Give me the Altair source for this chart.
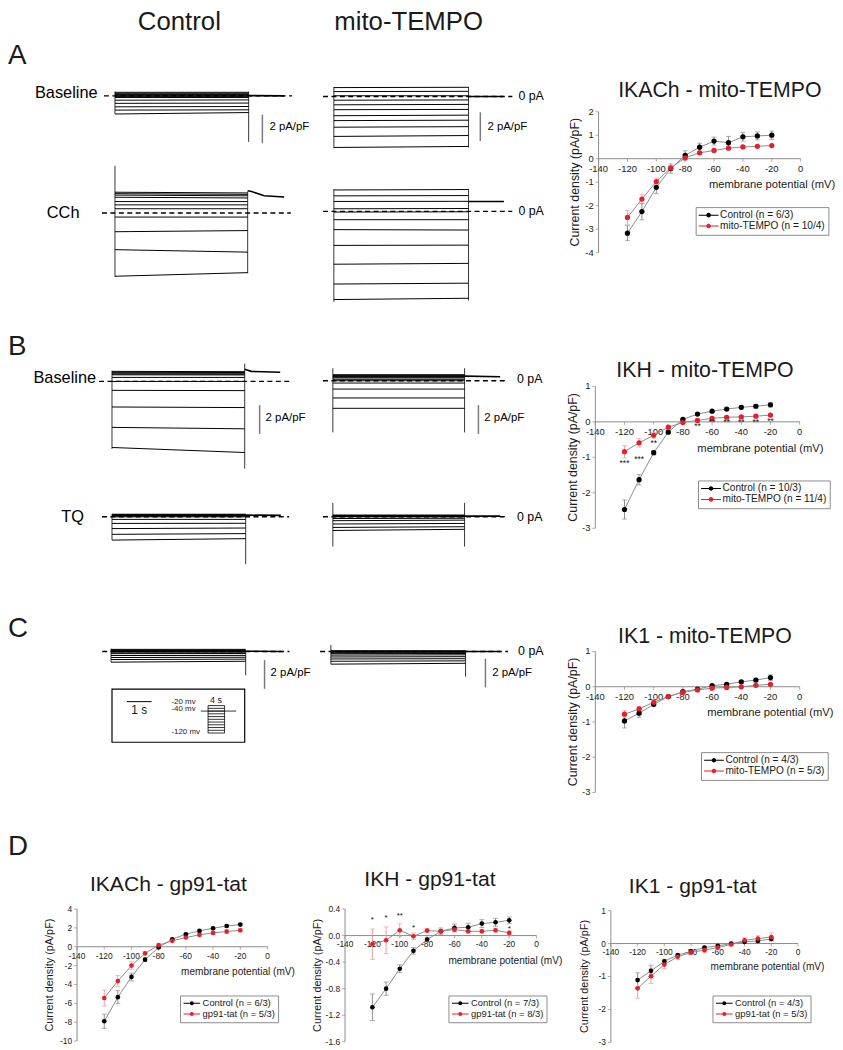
import altair as alt
import pandas as pd

# ------------------------------------------------------------------ data
VOLT = [-120, -110, -100, -90, -80, -70, -60, -50, -40, -30, -20]
X_TICKS = [-140, -120, -100, -80, -60, -40, -20, 0]

# A  IKACh - mito-TEMPO
IKACH_MT_CTRL = [-3.17, -2.25, -1.22, -0.42, 0.14, 0.49, 0.75, 0.68, 0.93, 0.97, 1.00]
IKACH_MT_CTRL_ERR = [0.32, 0.35, 0.27, 0.20, 0.20, 0.17, 0.17, 0.27, 0.18, 0.17, 0.18]
IKACH_MT_TRT = [-2.50, -1.72, -0.97, -0.39, 0.04, 0.25, 0.35, 0.45, 0.50, 0.53, 0.56]
IKACH_MT_TRT_ERR = [0.30, 0.20, 0.15, 0.10, 0.05, 0.05, 0.04, 0.04, 0.04, 0.04, 0.04]

# B  IKH - mito-TEMPO
IKH_MT_CTRL = [-2.47, -1.63, -0.87, -0.29, 0.07, 0.22, 0.30, 0.36, 0.41, 0.44, 0.48]
IKH_MT_CTRL_ERR = [0.27, 0.15, 0.06, 0.04, 0.03, 0.03, 0.04, 0.04, 0.05, 0.05, 0.06]
IKH_MT_TRT = [-0.84, -0.59, -0.38, -0.15, -0.02, 0.04, 0.10, 0.13, 0.14, 0.16, 0.19]
IKH_MT_TRT_ERR = [0.17, 0.12, 0.08, 0.05, 0.03, 0.03, 0.03, 0.03, 0.03, 0.03, 0.03]
IKH_MT_STARS = ["***", "***", "**", "", "", "**", "**", "**", "**", "**", "**"]
IKH_MT_STAR_Y = [-1.17, -1.05, -0.59, 0, 0, -0.11, -0.01, -0.01, -0.01, 0.0, 0.01]

# C  IK1 - mito-TEMPO
IK1_MT_CTRL = [-0.97, -0.75, -0.50, -0.28, -0.14, -0.07, 0.03, 0.07, 0.14, 0.19, 0.26]
IK1_MT_CTRL_ERR = [0.20, 0.12, 0.05, 0.03, 0.03, 0.03, 0.03, 0.03, 0.04, 0.05, 0.08]
IK1_MT_TRT = [-0.78, -0.63, -0.44, -0.28, -0.16, -0.09, -0.04, -0.02, 0.00, 0.04, 0.07]
IK1_MT_TRT_ERR = [0.10, 0.07, 0.04, 0.03, 0.03, 0.03, 0.03, 0.03, 0.03, 0.03, 0.03]

# D  gp91-tat
IKACH_GP_CTRL = [-7.90, -5.35, -3.20, -1.37, -0.07, 0.80, 1.33, 1.68, 1.96, 2.20, 2.35]
IKACH_GP_CTRL_ERR = [0.75, 0.70, 0.40, 0.20, 0.10, 0.10, 0.12, 0.12, 0.12, 0.12, 0.12]
IKACH_GP_TRT = [-5.43, -3.64, -2.00, -0.70, 0.17, 0.63, 0.98, 1.26, 1.47, 1.61, 1.75]
IKACH_GP_TRT_ERR = [0.85, 0.60, 0.40, 0.15, 0.10, 0.10, 0.12, 0.15, 0.18, 0.20, 0.20]

IKH_GP_CTRL = [-1.08, -0.80, -0.50, -0.23, -0.06, 0.065, 0.115, 0.125, 0.18, 0.20, 0.23]
IKH_GP_CTRL_ERR = [0.20, 0.10, 0.06, 0.05, 0.03, 0.05, 0.06, 0.06, 0.06, 0.06, 0.05]
IKH_GP_TRT = [-0.13, -0.07, 0.08, -0.01, 0.075, 0.065, 0.09, 0.065, 0.065, 0.08, 0.04]
IKH_GP_TRT_ERR = [0.23, 0.20, 0.10, 0.05, 0.03, 0.03, 0.03, 0.03, 0.03, 0.03, 0.03]
IKH_GP_STARS = ["*", "*", "**", "*", "", "", "", "", "", "", "*"]
IKH_GP_STAR_Y = [0.23, 0.26, 0.29, 0.115, 0, 0, 0, 0, 0, 0, 0.105]

IK1_GP_CTRL = [-1.11, -0.83, -0.54, -0.35, -0.24, -0.12, -0.07, 0.00, 0.05, 0.08, 0.14]
IK1_GP_CTRL_ERR = [0.22, 0.17, 0.06, 0.04, 0.04, 0.04, 0.04, 0.04, 0.04, 0.05, 0.06]
IK1_GP_TRT = [-1.36, -0.99, -0.64, -0.40, -0.27, -0.20, -0.12, -0.03, 0.10, 0.15, 0.20]
IK1_GP_TRT_ERR = [0.30, 0.22, 0.12, 0.08, 0.06, 0.08, 0.05, 0.04, 0.08, 0.09, 0.12]

# Current traces (pA/pF): level of each sweep at step onset and at step end (t = 0 s, 4 s)
A_CB_START = [0.25, 0.18, 0.10, 0.02, -0.05, -0.11, -0.30, -0.52, -0.76, -0.99, -1.26]
A_CB_END = [0.25, 0.18, 0.10, 0.02, -0.05, -0.11, -0.28, -0.50, -0.74, -0.97, -1.16]
A_CB_TAIL_T, A_CB_TAIL_I = [4.0, 5.07], [0.02, 0.0]
A_CB_TR_T, A_CB_TR_LO, A_CB_TR_HI = [0, 4], [-1.26, -3.2], [0.3, 0.3]

A_MB_START = [0.62, 0.34, 0.05, -0.26, -0.58, -0.92, -1.34, -1.68, -2.14, -2.78, -3.55]
A_MB_END = [0.64, 0.36, 0.05, -0.24, -0.55, -0.90, -1.30, -1.65, -2.10, -2.72, -3.48]
A_MB_TAIL_T, A_MB_TAIL_I = [4.0, 5.03], [0.0, 0.0]
A_MB_TR_T, A_MB_TR_LO, A_MB_TR_HI = [0, 4], [-3.6, -3.55], [0.66, 0.66]

A_CC_START = [1.45, 1.35, 1.25, 1.10, 0.80, 0.57, 0.30, -0.28, -1.30, -2.55, -4.40]
A_CC_END = [1.40, 1.30, 1.20, 1.05, 0.80, 0.57, 0.30, -0.28, -1.22, -2.72, -4.15]
A_CC_TAIL_T, A_CC_TAIL_I = [4.0, 4.12, 4.5, 5.1], [1.55, 1.5, 1.2, 1.12]
A_CC_TR_T, A_CC_TR_LO, A_CC_TR_HI = [0, 4], [-4.45, -4.2], [3.3, 1.5]

A_MC_START = [1.49, 1.08, 0.69, 0.18, -0.05, -0.58, -1.27, -2.37, -3.68, -5.06, -6.14]
A_MC_END = [1.52, 1.10, 0.70, 0.20, -0.03, -0.58, -1.30, -2.35, -3.62, -5.00, -6.05]
A_MC_TAIL_T, A_MC_TAIL_I = [4.0, 5.05], [0.69, 0.69]
A_MC_TR_T, A_MC_TR_LO, A_MC_TR_HI = [0, 4], [-6.3, -6.2], [1.55, 1.55]

B_CB_START = [0.70, 0.64, 0.58, 0.52, 0.46, 0.28, 0.00, -0.62, -1.78, -3.20, -4.60]
B_CB_END = [0.68, 0.62, 0.57, 0.50, 0.45, 0.28, 0.00, -0.64, -1.82, -3.30, -4.95]
B_CB_TAIL_T, B_CB_TAIL_I = [4.0, 4.2, 5.07], [0.85, 0.70, 0.64]
B_CB_TR_T, B_CB_TR_LO, B_CB_TR_HI = [0, 4], [-4.7, -6.07], [0.75, 1.24]

B_MB_START = [0.42, 0.36, 0.30, 0.25, 0.20, 0.10, 0.00, -0.16, -0.58, -1.20, -1.92]
B_MB_END = [0.42, 0.36, 0.30, 0.25, 0.20, 0.10, 0.00, -0.16, -0.58, -1.20, -1.92]
B_MB_TAIL_T, B_MB_TAIL_I = [4.0, 5.08], [0.32, 0.28]
B_MB_TR_T, B_MB_TR_LO, B_MB_TR_HI = [0, 4], [-3.6, -3.6], [0.87, 0.87]

B_CT_START = [0.18, 0.15, 0.12, 0.09, 0.05, 0.00, -0.18, -0.46, -0.82, -1.22, -1.62]
B_CT_END = [0.18, 0.15, 0.12, 0.09, 0.05, 0.00, -0.18, -0.45, -0.78, -1.17, -1.52]
B_CT_TAIL_T, B_CT_TAIL_I = [4.0, 5.05], [0.12, 0.10]
B_CT_TR_T, B_CT_TR_LO, B_CT_TR_HI = [0, 4], [-1.62, -3.3], [0.2, 0.12]

B_MT_START = [0.12, 0.10, 0.07, 0.04, 0.02, 0.00, -0.12, -0.27, -0.50, -0.74, -0.95]
B_MT_END = [0.12, 0.10, 0.07, 0.04, 0.02, 0.00, -0.10, -0.23, -0.46, -0.69, -0.87]
B_MT_TAIL_T, B_MT_TAIL_I = [4.0, 5.08], [0.05, 0.05]
B_MT_TR_T, B_MT_TR_LO, B_MT_TR_HI = [0, 4], [-2.07, -2.07], [0.97, 0.97]

C_C_START = [0.15, 0.10, 0.06, 0.03, 0.00, -0.05, -0.15, -0.28, -0.42, -0.56, -0.74]
C_C_END = [0.15, 0.10, 0.06, 0.03, 0.00, -0.05, -0.14, -0.27, -0.40, -0.53, -0.68]
C_C_TAIL_T, C_C_TAIL_I = [4.0, 5.09], [0.02, 0.0]
C_C_TR_T, C_C_TR_LO, C_C_TR_HI = [0, 4], [-0.74, -1.66], [0.2, 0.05]

C_M_START = [0.05, 0.03, 0.00, -0.03, -0.08, -0.15, -0.25, -0.38, -0.52, -0.68, -0.88]
C_M_END = [0.05, 0.03, 0.00, -0.03, -0.08, -0.14, -0.23, -0.36, -0.50, -0.65, -0.82]
C_M_TAIL_T, C_M_TAIL_I = [4.0, 5.03], [0.0, 0.0]
C_M_TR_T, C_M_TR_LO, C_M_TR_HI = [0, 4], [-0.88, -1.75], [0.45, 0.05]

# voltage protocol
PROTO_STEPS = [-120, -110, -100, -90, -80, -70, -60, -50, -40, -30, -20]
PROTO_HOLD = -40
PROTO_HOLD_T = [-1.75, 6.8]

# ------------------------------------------------------------------ layout / style
W, H, OFF = 835, 1042, 8
FONT = "Liberation Sans"
RED = "#e3202b"
AXC = "#8a8a8a"
TXT = "#1a1a1a"
PX_PER_UNIT = 14.5


def px(v):
    return v - OFF


def lin(domain, r0, r1):
    return alt.Scale(domain=domain, range=[px(r0), px(r1)], nice=False, zero=False)


def sym_path(u_half, r):
    return (f"M-1,{-u_half}L3,{-u_half}L3,{u_half}L-1,{u_half}Z "
            f"M{1 - r},0A{r},{r} 0 1 1 {1 + r},0A{r},{r} 0 1 1 {1 - r},0Z")


def fmt_tick(v, fmt):
    if fmt == ".1f":
        return f"{v:.1f}"
    return str(int(round(v)))


def iv_layer(p):
    lo_v, hi_v = p["ydom"]
    xs = lin([-140, 0], p["xl"], p["xr"])
    ys = lin([lo_v, hi_v], p["yb"], p["yt"])
    big = p["big"]
    lfs = 9.5 if big else 8.5
    X = lambda f: alt.X(f, scale=xs, axis=None)
    Y = lambda f: alt.Y(f, scale=ys, axis=None)

    rows = []
    for lab, vals, errs, ec in [(p["ctrl_lab"], p["ctrl"], p["ctrl_err"], "#8f8f8f"),
                                (p["trt_lab"], p["trt"], p["trt_err"], "#f2a0a0")]:
        for v, m, e in zip(VOLT, vals, errs):
            rows.append({"v": v, "m": m, "lo": m - e, "hi": m + e, "series": lab, "ec": ec})
    df = pd.DataFrame(rows)

    # axes drawn through the panel scales
    xdom = alt.Chart(pd.DataFrame({"a": [-140], "b": [0], "z": [0]})).mark_rule(
        color=AXC, strokeWidth=1).encode(x=X("a:Q"), x2="b:Q", y=Y("z:Q"))
    ydom = alt.Chart(pd.DataFrame({"a": [-140], "lo": [lo_v], "hi": [hi_v]})).mark_rule(
        color=AXC, strokeWidth=1).encode(x=X("a:Q"), y=Y("lo:Q"), y2="hi:Q")
    xt_df = pd.DataFrame({"v": X_TICKS, "z": 0, "s": [str(v) for v in X_TICKS]})
    xticks = alt.Chart(xt_df).mark_tick(orient="vertical", size=3, thickness=1, yOffset=1.5,
                                        color=AXC).encode(x=X("v:Q"), y=Y("z:Q"))
    xlabels = alt.Chart(xt_df).mark_text(baseline="top", align="center", dy=5, fontSize=lfs,
                                         color=TXT).encode(x=X("v:Q"), y=Y("z:Q"), text="s:N")
    yt_df = pd.DataFrame({"a": -140, "v": p["yticks"], "s": [fmt_tick(v, p["fmt"]) for v in p["yticks"]]})
    yticks = alt.Chart(yt_df).mark_tick(orient="horizontal", size=3, thickness=1, xOffset=-1.5,
                                        color=AXC).encode(x=X("a:Q"), y=Y("v:Q"))
    ylabels = alt.Chart(yt_df).mark_text(baseline="middle", align="right", dx=-5, fontSize=lfs,
                                         color=TXT).encode(x=X("a:Q"), y=Y("v:Q"), text="s:N")

    line = alt.Chart(df).mark_line(color="#8c8c8c", strokeWidth=1).encode(
        x=X("v:Q"), y=Y("m:Q"), detail="series:N")
    err = alt.Chart(df).mark_rule(strokeWidth=1).encode(
        x=X("v:Q"), y=Y("lo:Q"), y2="hi:Q", stroke=alt.Stroke("ec:N", scale=None))
    cap_lo = alt.Chart(df).mark_tick(orient="horizontal", size=5, thickness=1).encode(
        x=X("v:Q"), y=Y("lo:Q"), fill=alt.Fill("ec:N", scale=None))
    cap_hi = alt.Chart(df).mark_tick(orient="horizontal", size=5, thickness=1).encode(
        x=X("v:Q"), y=Y("hi:Q"), fill=alt.Fill("ec:N", scale=None))
    if big:
        path, ssize, loff, lgfs = sym_path(0.1, 0.46), 100, 11.5, 10.2
    else:
        path, ssize, loff, lgfs = sym_path(0.12, 0.48), 70, 10.3, 9.5
    pts = alt.Chart(df).mark_point(filled=True, size=28 if big else 22, opacity=1, strokeWidth=0).encode(
        x=X("v:Q"), y=Y("m:Q"),
        color=alt.Color("series:N",
                        scale=alt.Scale(domain=[p["ctrl_lab"], p["trt_lab"]], range=["#000000", RED]),
                        legend=alt.Legend(orient="none", legendX=px(p["lg"][0]), legendY=px(p["lg"][1]),
                                          title=None, direction="vertical", strokeColor="#8c8c8c",
                                          fillColor="white", padding=3, labelFontSize=lgfs,
                                          labelColor=TXT, symbolType=path, symbolSize=ssize,
                                          symbolStrokeWidth=0, labelOffset=loff, rowPadding=0,
                                          labelLimit=300)))
    layers = [xdom, ydom, xticks, yticks, xlabels, ylabels, line, err, cap_lo, cap_hi, pts]
    if p.get("stars"):
        sdf = pd.DataFrame({"v": VOLT, "st": p["stars"], "sy": p["stars_y"]})
        sdf = sdf[sdf["st"] != ""]
        stars = alt.Chart(sdf).mark_text(fontSize=8.5 if big else 8, baseline="middle",
                                         align="center", color="#111").encode(
            x=X("v:Q"), y=Y("sy:Q"), text="st:N")
        layers.append(stars)
    return alt.layer(*layers)


def trace_layer(p):
    xs = lin([0, 4], p["x0"], p["x4"])
    ys = alt.Scale(domain=[0, 1], range=[px(p["y0"]), px(p["y0"]) - PX_PER_UNIT], nice=False, zero=False)
    X = lambda f: alt.X(f, scale=xs, axis=None)
    Y = lambda f: alt.Y(f, scale=ys, axis=None)
    rows = []
    for k, (s, e) in enumerate(zip(p["start"], p["end"])):
        rows.append({"t": 0.0, "i": s, "k": k})
        rows.append({"t": 4.0, "i": e, "k": k})
    sweeps = alt.Chart(pd.DataFrame(rows)).mark_line(color="black", strokeWidth=1).encode(
        x=X("t:Q"), y=Y("i:Q"), detail="k:N")
    tail = alt.Chart(pd.DataFrame({"t": p["tail_t"], "i": p["tail_i"]})).mark_line(
        color="black", strokeWidth=1.6).encode(x=X("t:Q"), y=Y("i:Q"))
    trans = alt.Chart(pd.DataFrame({"t": p["tr_t"], "lo": p["tr_lo"], "hi": p["tr_hi"]})).mark_rule(
        color="black", strokeWidth=0.8).encode(x=X("t:Q"), y=Y("lo:Q"), y2="hi:Q")
    zero = alt.Chart(pd.DataFrame({"t1": [p["zero"][0]], "t2": [p["zero"][1]], "z": [0.0]})).mark_rule(
        color="black", strokeWidth=1.4, strokeDash=[5, 3.5]).encode(x=X("t1:Q"), x2="t2:Q", y=Y("z:Q"))
    layers = [sweeps, tail, trans, zero]
    if p.get("bar"):
        bt, blo, bhi = p["bar"]
        bar = alt.Chart(pd.DataFrame({"t": [bt], "lo": [blo], "hi": [bhi]})).mark_rule(
            color="#7a7a7a", strokeWidth=1.5).encode(x=X("t:Q"), y=Y("lo:Q"), y2="hi:Q")
        layers.append(bar)
    for (t, i, txt, fs, al) in p["texts"]:
        layers.append(alt.Chart(pd.DataFrame({"t": [t], "i": [i], "s": [txt]})).mark_text(
            align=al, baseline="middle", fontSize=fs, color="black").encode(
            x=X("t:Q"), y=Y("i:Q"), text="s:N"))
    return alt.layer(*layers)


IV_PANELS = [
    dict(ctrl=IKACH_MT_CTRL, ctrl_err=IKACH_MT_CTRL_ERR, trt=IKACH_MT_TRT, trt_err=IKACH_MT_TRT_ERR,
         ctrl_lab="Control (n = 6/3)", trt_lab="mito-TEMPO (n = 10/4)", ydom=[-4, 2],
         yticks=[2, 1, 0, -1, -2, -3, -4], fmt="d", xl=604.3, xr=808.3, yt=107.7, yb=250,
         lg=(702.3, 204), big=True),
    dict(ctrl=IKH_MT_CTRL, ctrl_err=IKH_MT_CTRL_ERR, trt=IKH_MT_TRT, trt_err=IKH_MT_TRT_ERR,
         ctrl_lab="Control (n = 10/3)", trt_lab="mito-TEMPO (n = 11/4)", ydom=[-3, 1],
         yticks=[1, 0, -1, -2, -3], fmt="d", xl=601, xr=807.3, yt=385, yb=528.3,
         lg=(704.7, 480), big=True, stars=IKH_MT_STARS, stars_y=IKH_MT_STAR_Y),
    dict(ctrl=IK1_MT_CTRL, ctrl_err=IK1_MT_CTRL_ERR, trt=IK1_MT_TRT, trt_err=IK1_MT_TRT_ERR,
         ctrl_lab="Control (n = 4/3)", trt_lab="mito-TEMPO (n = 5/3)", ydom=[-3, 1],
         yticks=[1, 0, -1, -2, -3], fmt="d", xl=601, xr=807.3, yt=652.7, yb=795,
         lg=(707.7, 754.3), big=True),
    dict(ctrl=IKACH_GP_CTRL, ctrl_err=IKACH_GP_CTRL_ERR, trt=IKACH_GP_TRT, trt_err=IKACH_GP_TRT_ERR,
         ctrl_lab="Control (n = 6/3)", trt_lab="gp91-tat (n = 5/3)", ydom=[-10, 4],
         yticks=[4, 2, 0, -2, -4, -6, -8, -10], fmt="d", xl=77.7, xr=270, yt=912.7, yb=1046,
         lg=(181.7, 1000), big=False),
    dict(ctrl=IKH_GP_CTRL, ctrl_err=IKH_GP_CTRL_ERR, trt=IKH_GP_TRT, trt_err=IKH_GP_TRT_ERR,
         ctrl_lab="Control (n = 7/3)", trt_lab="gp91-tat (n = 8/3)", ydom=[-1.6, 0.4],
         yticks=[0.4, 0.0, -0.4, -0.8, -1.2, -1.6], fmt=".1f", xl=348.3, xr=541.7, yt=912.7, yb=1046.7,
         lg=(452.7, 1000), big=False, stars=IKH_GP_STARS, stars_y=IKH_GP_STAR_Y),
    dict(ctrl=IK1_GP_CTRL, ctrl_err=IK1_GP_CTRL_ERR, trt=IK1_GP_TRT, trt_err=IK1_GP_TRT_ERR,
         ctrl_lab="Control (n = 4/3)", trt_lab="gp91-tat (n = 5/3)", ydom=[-3, 1],
         yticks=[1, 0, -1, -2, -3], fmt="d", xl=616.7, xr=805.7, yt=914.3, yb=1047.3,
         lg=(719.3, 1000), big=False),
]

TRACE_PANELS = [
    dict(start=A_CB_START, end=A_CB_END, tail_t=A_CB_TAIL_T, tail_i=A_CB_TAIL_I, tr_t=A_CB_TR_T,
         tr_lo=A_CB_TR_LO, tr_hi=A_CB_TR_HI, x0=116, x4=251, y0=91.7, zero=(-0.33, 5.3),
         bar=(4.41, -1.3, -3.3),
         texts=[(-0.52, 0.17, "Baseline", 16.5, "right"), (4.62, -2.2, "2 pA/pF", 11.5, "left")]),
    dict(start=A_MB_START, end=A_MB_END, tail_t=A_MB_TAIL_T, tail_i=A_MB_TAIL_I, tr_t=A_MB_TR_T,
         tr_lo=A_MB_TR_LO, tr_hi=A_MB_TR_HI, x0=337, x4=473, y0=92.3, zero=(-0.32, 5.3),
         bar=(4.35, -1.1, -3.1),
         texts=[(5.48, 0.0, "0 pA", 12.5, "left"), (4.56, -2.1, "2 pA/pF", 11.5, "left")]),
    dict(start=A_CC_START, end=A_CC_END, tail_t=A_CC_TAIL_T, tail_i=A_CC_TAIL_I, tr_t=A_CC_TR_T,
         tr_lo=A_CC_TR_LO, tr_hi=A_CC_TR_HI, x0=116, x4=250, y0=210, zero=(-0.39, 5.3),
         texts=[(-1.07, 0.0, "CCh", 16.5, "right")]),
    dict(start=A_MC_START, end=A_MC_END, tail_t=A_MC_TAIL_T, tail_i=A_MC_TAIL_I, tr_t=A_MC_TR_T,
         tr_lo=A_MC_TR_LO, tr_hi=A_MC_TR_HI, x0=337, x4=473, y0=208.3, zero=(-0.32, 5.3),
         texts=[(5.48, 0.0, "0 pA", 12.5, "left")]),
    dict(start=B_CB_START, end=B_CB_END, tail_t=B_CB_TAIL_T, tail_i=B_CB_TAIL_I, tr_t=B_CB_TR_T,
         tr_lo=B_CB_TR_LO, tr_hi=B_CB_TR_HI, x0=113, x4=247, y0=380, zero=(-0.39, 5.37),
         bar=(4.45, -1.65, -3.65),
         texts=[(-0.48, 0.23, "Baseline", 16.5, "right"), (4.63, -2.55, "2 pA/pF", 11.5, "left")]),
    dict(start=B_MB_START, end=B_MB_END, tail_t=B_MB_TAIL_T, tail_i=B_MB_TAIL_I, tr_t=B_MB_TR_T,
         tr_lo=B_MB_TR_LO, tr_hi=B_MB_TR_HI, x0=336, x4=469, y0=379.3, zero=(-0.3, 5.32),
         bar=(4.42, -1.7, -3.7),
         texts=[(5.59, 0.1, "0 pA", 12.5, "left"), (4.6, -2.6, "2 pA/pF", 11.5, "left")]),
    dict(start=B_CT_START, end=B_CT_END, tail_t=B_CT_TAIL_T, tail_i=B_CT_TAIL_I, tr_t=B_CT_TR_T,
         tr_lo=B_CT_TR_LO, tr_hi=B_CT_TR_HI, x0=113, x4=248, y0=516.7, zero=(-0.3, 5.3),
         texts=[(-0.84, 0.0, "TQ", 16.5, "right")]),
    dict(start=B_MT_START, end=B_MT_END, tail_t=B_MT_TAIL_T, tail_i=B_MT_TAIL_I, tr_t=B_MT_TR_T,
         tr_lo=B_MT_TR_LO, tr_hi=B_MT_TR_HI, x0=336, x4=469, y0=516.7, zero=(-0.3, 5.32),
         texts=[(5.59, 0.0, "0 pA", 12.5, "left")]),
    dict(start=C_C_START, end=C_C_END, tail_t=C_C_TAIL_T, tail_i=C_C_TAIL_I, tr_t=C_C_TR_T,
         tr_lo=C_C_TR_LO, tr_hi=C_C_TR_HI, x0=112, x4=248, y0=652.7, zero=(-0.26, 5.3),
         bar=(4.56, -0.6, -2.6),
         texts=[(4.74, -1.47, "2 pA/pF", 11.5, "left")]),
    dict(start=C_M_START, end=C_M_END, tail_t=C_M_TAIL_T, tail_i=C_M_TAIL_I, tr_t=C_M_TR_T,
         tr_lo=C_M_TR_LO, tr_hi=C_M_TR_HI, x0=334, x4=470, y0=652.7, zero=(-0.32, 5.26),
         bar=(4.59, -0.5, -2.5),
         texts=[(5.56, 0.0, "0 pA", 12.5, "left"), (4.79, -1.47, "2 pA/pF", 11.5, "left")]),
]

# free-standing texts: (x, y, text, font size, align) in page pixels
LABELS = [
    (181, 17.5, "Control", 26, "center"),
    (412.5, 17.5, "mito-TEMPO", 26, "center"),
    (8, 52, "A", 28, "left"),
    (8, 345, "B", 28, "left"),
    (8, 630, "C", 28, "left"),
    (8, 850, "D", 28, "left"),
    (726.7, 86.7, "IKACh - mito-TEMPO", 21.5, "center"),
    (711.7, 370, "IKH - mito-TEMPO", 21.5, "center"),
    (711.7, 637.7, "IK1 - mito-TEMPO", 21.5, "center"),
    (170, 888.3, "IKACh - gp91-tat", 21.3, "center"),
    (434, 883.3, "IKH - gp91-tat", 21.3, "center"),
    (699.3, 890.7, "IK1 - gp91-tat", 21.3, "center"),
    (140.5, 711.7, "1 s", 12, "center"),
    (218, 701.5, "4 s", 9, "center"),
    (173, 703.3, "-20 mv", 8, "left"),
    (173, 711.2, "-40 mv", 8, "left"),
    (173, 734, "-120 mv", 8, "left"),
    # x-axis titles of the I-V plots
    (715.7, 181.7, "membrane potential (mV)", 11.3, "left"),
    (704, 448.3, "membrane potential (mV)", 11.3, "left"),
    (714, 715, "membrane potential (mV)", 11.3, "left"),
    (182.7, 976.7, "membrane potential (mV)", 10.2, "left"),
    (452.7, 965.7, "membrane potential (mV)", 10.2, "left"),
    (717.3, 971.7, "membrane potential (mV)", 10.2, "left"),
]

# rotated y-axis titles: (x, y, text, font size)
Y_TITLES = [
    (580.7, 178.8, "Current density (pA/pF)", 12.5),
    (578.3, 456.7, "Current density (pA/pF)", 12.5),
    (578.3, 723.8, "Current density (pA/pF)", 12.5),
    (50.7, 979.4, "Current density (pA/pF)", 11),
    (320.7, 979.7, "Current density (pA/pF)", 11),
    (590.7, 980.8, "Current density (pA/pF)", 11),
]


def canvas_layer():
    cx = alt.Scale(domain=[0, W], range=[0, W], nice=False, zero=False)
    cy = alt.Scale(domain=[0, H], range=[0, H], nice=False, zero=False)
    layers = []
    for al in ["left", "center", "right"]:
        rows = [{"x": px(x), "y": px(y), "s": s, "fs": fs} for (x, y, s, fs, a) in LABELS if a == al]
        if not rows:
            continue
        layers.append(alt.Chart(pd.DataFrame(rows)).mark_text(align=al, baseline="middle", color=TXT).encode(
            x=alt.X("x:Q", scale=cx, axis=None), y=alt.Y("y:Q", scale=cy, axis=None),
            text="s:N", size=alt.Size("fs:Q", scale=None)))
    yrows = [{"x": px(x), "y": px(y), "s": s, "fs": fs} for (x, y, s, fs) in Y_TITLES]
    layers.append(alt.Chart(pd.DataFrame(yrows)).mark_text(align="center", baseline="middle", angle=270,
                                                           color=TXT).encode(
        x=alt.X("x:Q", scale=cx, axis=None), y=alt.Y("y:Q", scale=cy, axis=None),
        text="s:N", size=alt.Size("fs:Q", scale=None)))
    box = alt.Chart(pd.DataFrame({"x": [px(113)], "x2": [px(247)], "y": [px(690.7)], "y2": [px(744.3)]})).mark_rect(
        fillOpacity=0, stroke="black", strokeWidth=1.2).encode(
        x=alt.X("x:Q", scale=cx, axis=None), x2="x2:Q", y=alt.Y("y:Q", scale=cy, axis=None), y2="y2:Q")
    sbar = alt.Chart(pd.DataFrame({"x": [px(128)], "x2": [px(153)], "y": [px(703.3)]})).mark_rule(
        color="black", strokeWidth=1).encode(
        x=alt.X("x:Q", scale=cx, axis=None), x2="x2:Q", y=alt.Y("y:Q", scale=cy, axis=None))
    layers += [box, sbar]
    return alt.layer(*layers)


def protocol_layer():
    xs = lin([0, 4], 210, 226.7)
    ys = lin([-120, -20], 735, 707.3)
    X = lambda f: alt.X(f, scale=xs, axis=None)
    Y = lambda f: alt.Y(f, scale=ys, axis=None)
    steps = alt.Chart(pd.DataFrame({"v": PROTO_STEPS, "t1": 0.0, "t2": 4.0})).mark_rule(
        color="black", strokeWidth=0.8).encode(x=X("t1:Q"), x2="t2:Q", y=Y("v:Q"))
    edges = alt.Chart(pd.DataFrame({"t": [0.0, 4.0], "lo": min(PROTO_STEPS), "hi": max(PROTO_STEPS)})).mark_rule(
        color="black", strokeWidth=0.8).encode(x=X("t:Q"), y=Y("lo:Q"), y2="hi:Q")
    hold = alt.Chart(pd.DataFrame({"t1": [PROTO_HOLD_T[0]], "t2": [PROTO_HOLD_T[1]], "v": [PROTO_HOLD]})).mark_rule(
        color="black", strokeWidth=0.8).encode(x=X("t1:Q"), x2="t2:Q", y=Y("v:Q"))
    return alt.layer(steps, edges, hold)


layers = [canvas_layer(), protocol_layer()]
layers += [trace_layer(p) for p in TRACE_PANELS]
layers += [iv_layer(p) for p in IV_PANELS]

chart = alt.layer(*layers).resolve_scale(
    x="independent", y="independent", color="independent", stroke="independent",
    fill="independent", size="independent"
).resolve_legend(color="independent").properties(
    width=W, height=H, padding=0, autosize=alt.AutoSizeParams(type="none")
).configure(font=FONT).configure_view(stroke=None)

chart.save("out.html", embed_options={"renderer": "svg", "actions": False})
